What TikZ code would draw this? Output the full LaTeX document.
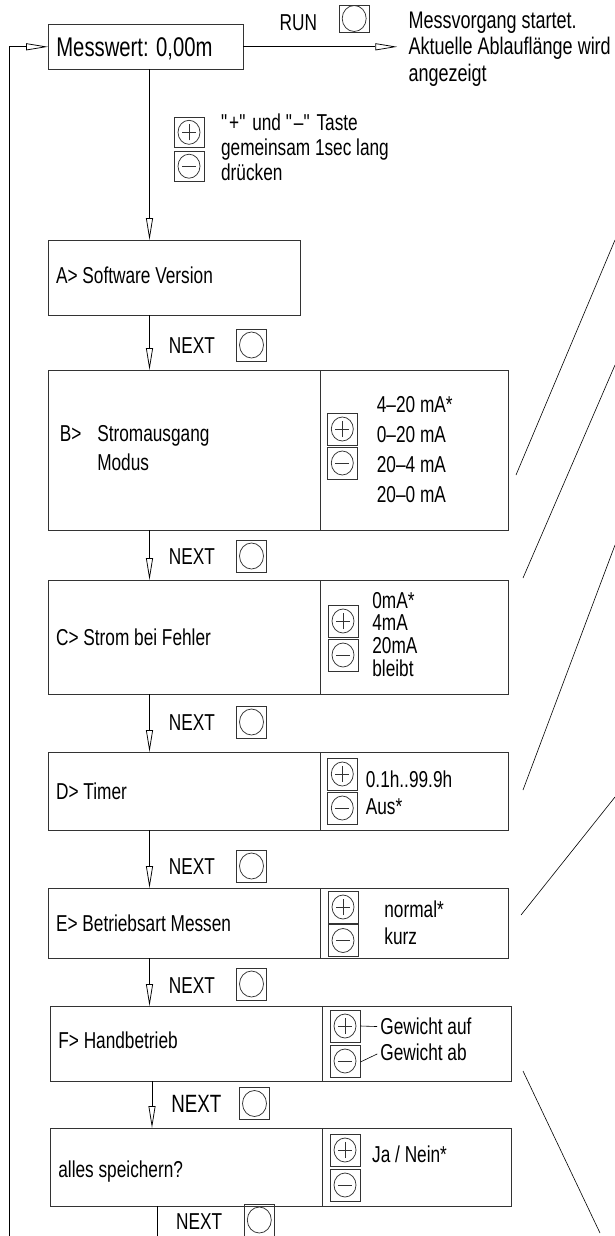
\documentclass[tikz,border=0pt]{standalone}
\usepackage{fontspec}
\setmainfont{Liberation Sans}[FakeStretch=0.75]
\usepackage{tikz}
\usetikzlibrary{positioning, arrows.meta}

\begin{document}
\begin{tikzpicture}[
  x=1pt, y=-1pt,
  font=\fontsize{23}{25}\selectfont,
  line width=0.75pt,
  box/.style={draw=black!80, inner sep=0pt, outer sep=0pt},
  txt/.style={inner sep=0pt, anchor=north west, align=left},
  key/.style={draw=black!80, minimum width=30pt, minimum height=32pt, inner sep=0pt},
  keyplus/.style={key, path picture={
      \draw (path picture bounding box.center) ellipse [x radius=11pt, y radius=12pt];
      \draw ([xshift=-7pt]path picture bounding box.center) -- ([xshift=7pt]path picture bounding box.center);
      \draw ([yshift=-8pt]path picture bounding box.center) -- ([yshift=8pt]path picture bounding box.center);}},
  keyminus/.style={key, path picture={
      \draw (path picture bounding box.center) ellipse [x radius=11pt, y radius=12pt];
      \draw ([xshift=-7pt]path picture bounding box.center) -- ([xshift=7pt]path picture bounding box.center);}},
  btn/.style={key, path picture={
      \draw (path picture bounding box.center) ellipse [x radius=12pt, y radius=13pt];}},
  arr/.style={-{Triangle[open, length=22pt, width=7pt]}}
]
\useasboundingbox (0,0) rectangle (615,1236);

% --- start ---
\node[box, minimum width=195.3pt, minimum height=45pt] (msw) at (145.7,46.8) {};
\node[txt, font=\fontsize{27}{30}\selectfont] (mswtxt) at (56,36.8) {Messwert: 0,00m};
\node[txt] (run) at (279.3,14.6) {RUN};
\node[btn, minimum height=27pt] (btnrun) at (354.2,18.5) {};
\node[txt, font=\fontsize{24}{26.5}\selectfont] (desc) at (408.3,11.4) {Messvorgang startet.\\Aktuelle Ablauflänge wird\\angezeigt};
\draw[arr, shorten >=11pt] (msw.east) -- (msw.east -| desc.west);

\node[keyplus, minimum height=30pt] (kTp) at (189,132.3) {};
\node[keyminus, minimum height=30pt] (kTm) at (189,166.2) {};
\node[txt] (keytxt) at (220.7,113.5) {\textquotedbl+\textquotedbl{} und \textquotedbl–\textquotedbl{} Taste\\gemeinsam 1sec lang\\drücken};

\coordinate (flow) at (149.5,0);
\coordinate (flowF) at (152,0);
\coordinate (bot) at (157.3,1236);
\coordinate (loop) at (9,1236);

% --- A ---
\node[box, minimum width=252pt, minimum height=75pt] (swv) at (174,277.5) {};
\node[txt] (swvtxt) at (55.7,266.8) {A> Software Version};

% --- B ---
\node[box, minimum width=272pt, minimum height=160pt] (Bl) at (184,450) {};
\node[box, minimum width=188.6pt, minimum height=160pt, right=0pt of Bl] (Br) {};
\node[txt] (Blab) at (59.6,424.8) {B>};
\node[txt, font=\fontsize{23}{29.5}\selectfont] (Btxt) at (96.9,424.8) {Stromausgang\\Modus};
\node[keyplus] (kBp) at (342.3,429) {};
\node[keyminus] (kBm) at (342.3,463) {};
\node[txt, font=\fontsize{23}{30}\selectfont] (Bopt) at (376.5,395.8) {4–20 mA*\\0–20 mA\\20–4 mA\\20–0 mA};

% --- C ---
\node[box, minimum width=272pt, minimum height=114pt] (Cl) at (184,637) {};
\node[box, minimum width=188.6pt, minimum height=114pt, right=0pt of Cl] (Cr) {};
\node[txt] (Ctxt) at (55.7,628.8) {C> Strom bei Fehler};
\node[keyplus] (kCp) at (343,621) {};
\node[keyminus] (kCm) at (343,655) {};
\node[txt, font=\fontsize{23}{22.7}\selectfont] (Copt) at (372,591.8) {0mA*\\4mA\\20mA\\bleibt};

% --- D ---
\node[box, minimum width=272pt, minimum height=78pt] (Dl) at (184,791) {};
\node[box, minimum width=188.6pt, minimum height=78pt, right=0pt of Dl] (Dr) {};
\node[txt] (Dtxt) at (55.7,782.8) {D> Timer};
\node[keyplus] (kDp) at (342.3,774) {};
\node[keyminus] (kDm) at (342.3,808) {};
\node[txt, font=\fontsize{23}{27}\selectfont] (Dopt) at (365.5,770.8) {0.1h..99.9h\\Aus*};

% --- E ---
\node[box, minimum width=272pt, minimum height=70pt] (El) at (184,923) {};
\node[box, minimum width=188.6pt, minimum height=70pt, right=0pt of El] (Er) {};
\node[txt] (Etxt) at (55.7,914.8) {E> Betriebsart Messen};
\node[keyplus] (kEp) at (343,907) {};
\node[keyminus] (kEm) at (343,940.5) {};
\node[txt, font=\fontsize{23}{27}\selectfont] (Eopt) at (384,900.8) {normal*\\kurz};

% --- F ---
\node[box, minimum width=272.4pt, minimum height=75pt] (Fl) at (186.2,1043.5) {};
\node[box, minimum width=188.6pt, minimum height=75pt, right=0pt of Fl] (Fr) {};
\node[txt] (Ftxt) at (58,1031.8) {F> Handbetrieb};
\node[keyplus] (kFp) at (345,1026) {};
\node[keyminus] (kFm) at (345,1061) {};
\node[txt] (Fauf) at (380,1017.8) {Gewicht auf};
\node[txt] (Fab) at (380,1043.8) {Gewicht ab};
\draw[shorten >=3pt, line width=0.6pt] (kFp.east) -- (Fauf.west);
\draw[shorten >=3pt, line width=0.6pt] ([yshift=-1pt]kFm.east) -- (Fab.west);

% --- save ---
\node[box, minimum width=272.4pt, minimum height=78pt] (Gl) at (186.2,1167) {};
\node[box, minimum width=188.6pt, minimum height=78pt, right=0pt of Gl] (Gr) {};
\node[txt] (Gtxt) at (58,1160.8) {alles speichern?};
\node[keyplus] (kGp) at (345,1150) {};
\node[keyminus] (kGm) at (345,1185) {};
\node[txt] (Gopt) at (371.8,1145.8) {Ja / Nein*};

% --- NEXT steps ---
\draw[arr] (msw.south -| flow) -- (swv.north -| flow);
\draw[arr] (swv.south -| flow) -- (Bl.north -| flow);
\draw[arr] (Bl.south -| flow) -- (Cl.north -| flow);
\draw[arr] (Cl.south -| flow) -- (Dl.north -| flow);
\draw[arr] (Dl.south -| flow) -- (El.north -| flow);
\draw[arr] (El.south -| flow) -- (Fl.north -| flow);
\draw[arr] (Fl.south -| flowF) -- (Gl.north -| flowF);
\draw (Gl.south -| bot) -- (bot);
\draw[arr] (loop) |- (msw.west);

\node[txt] (nxA) at (168.6,336.8) {NEXT};
\node[btn] (btA) at (251.5,345) {};
\node[txt] (nxB) at (168.6,547.8) {NEXT};
\node[btn] (btB) at (251.5,556) {};
\node[txt] (nxC) at (168.6,713.8) {NEXT};
\node[btn] (btC) at (251.5,722) {};
\node[txt] (nxD) at (168.6,857.8) {NEXT};
\node[btn] (btD) at (251.5,866) {};
\node[txt] (nxE) at (168.6,976.8) {NEXT};
\node[btn] (btE) at (251.5,984) {};
\node[txt, font=\fontsize{25}{27}\selectfont] (nxF) at (171,1094.5) {NEXT};
\node[btn] (btF) at (254.5,1103.5) {};
\node[txt] (nxG) at (175.7,1213.5) {NEXT};
\node[btn] (btG) at (259.3,1220) {};

% --- leads to next page ---
\draw[line width=0.6pt] (516,475) -- (615,240);
\draw[line width=0.6pt] (523,578) -- (615,365);
\draw[line width=0.6pt] (523,790) -- (615,545);
\draw[line width=0.6pt] (521,915) -- (615,797);
\draw[line width=0.6pt] (523,1071) -- (600,1233);

\end{tikzpicture}
\end{document}
